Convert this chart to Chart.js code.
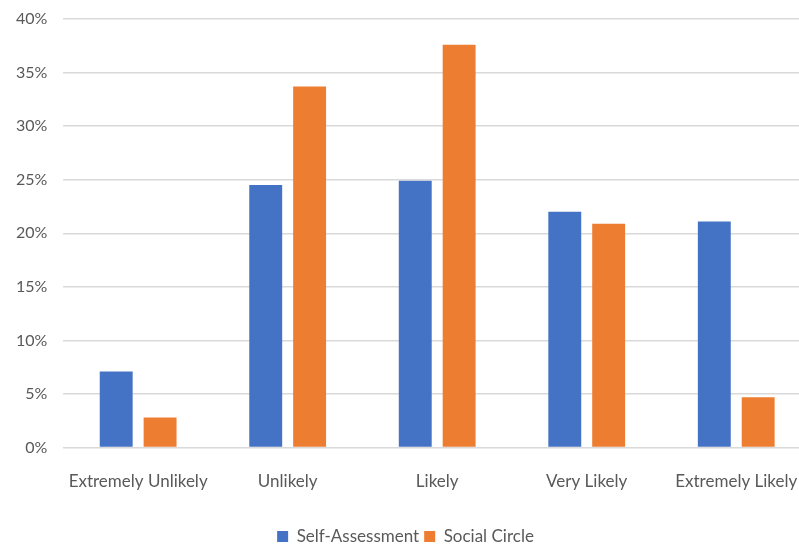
<!DOCTYPE html>
<html>
<head>
<meta charset="utf-8">
<script src="https://cdn.jsdelivr.net/npm/chart.js@4"></script>
<style>
  html, body { margin: 0; padding: 0; background: #fff; overflow: hidden; }
  /* the source image crops the plot area slightly on the right */
  #wrap { width: 799px; height: 544px; overflow: hidden; }
</style>
</head>
<body>
<div id="wrap"><canvas id="myChart" width="811" height="544"></canvas></div>
<script>
// categories and series (percent)
const categories = ['Extremely Unlikely', 'Unlikely', 'Likely', 'Very Likely', 'Extremely Likely']
const selfAssessment = [7.1, 24.5, 24.9, 22.0, 21.1]
const socialCircle = [2.8, 33.7, 37.6, 20.9, 4.7]
const yTicks = [0, 5, 10, 15, 20, 25, 30, 35, 40]

const grey = '#595959'

let data = {
  labels: categories,
  datasets: [{
    label: 'Self-Assessment',
    backgroundColor: '#4472C4',
    data: selfAssessment,
  }, {
    label: 'Social Circle',
    backgroundColor: '#ED7D31',
    data: socialCircle,
  }]
}

let config = {
  type: 'bar',
  data,
  options: {
    responsive: false,
    animation: false,
    layout: { padding: { left: 0, right: 0, top: 19, bottom: -11 } },
    datasets: {
      bar: { categoryPercentage: 0.587, barPercentage: 0.75 }
    },
    scales: {
      x: {
        grid: { display: false },
        border: { display: false },
        ticks: { color: grey, font: { family: 'Lato', size: 17 }, padding: 16 },
        afterFit: function(scale) {
          scale.height += 15
          scale.paddingLeft = 0
          scale.paddingRight = 0
        }
      },
      y: {
        min: 0,
        max: 40,
        afterBuildTicks: function(axis) {
          axis.ticks = yTicks.map(v => ({ value: v }))
        },
        afterFit: function(scale) {
          scale.paddingTop = 0
        },
        grid: { color: '#d9d9d9', lineWidth: 1.5, drawTicks: false },
        border: { display: false },
        ticks: {
          color: grey,
          font: { family: 'Lato', size: 16 },
          padding: 16,
          callback: v => v + '%'
        }
      }
    },
    plugins: {
      legend: {
        position: 'bottom',
        labels: {
          color: grey,
          font: { family: 'Lato', size: 17 },
          boxWidth: 11,
          boxHeight: 11,
          padding: 5
        }
      },
      tooltip: { enabled: false }
    }
  }
}

var chart = new Chart(document.getElementById('myChart'), config)
</script>
</body>
</html>
